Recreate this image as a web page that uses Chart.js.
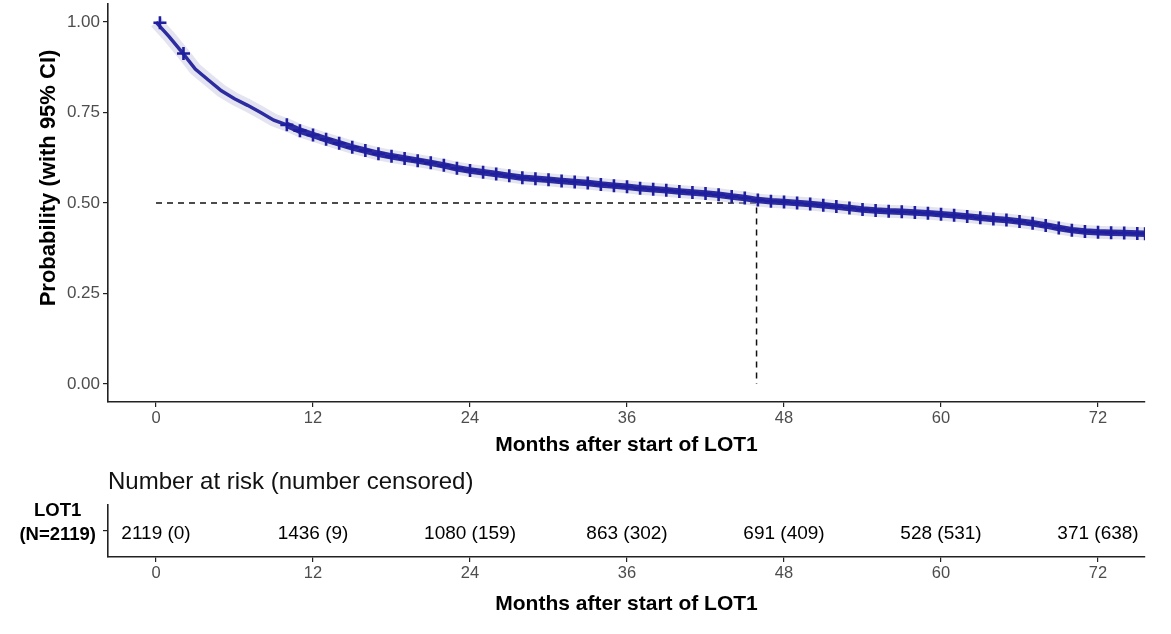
<!DOCTYPE html>
<html>
<head>
<meta charset="utf-8">
<script src="https://cdn.jsdelivr.net/npm/chart.js@4.4.1/dist/chart.umd.min.js"></script>
<style>
  body { margin: 0; background: #fff; }
  #wrap { position: relative; width: 1171px; height: 634px; }
  canvas { position: absolute; left: 0; }
  #km { top: 0; }
  #risk { top: 460px; }
</style>
</head>
<body>
<div id="wrap">
  <canvas id="km" width="1171" height="460"></canvas>
  <canvas id="risk" width="1171" height="174"></canvas>
</div>
<script>
// KM estimate (months, probability)
const months = [0, 1, 2, 3, 4, 5, 6, 7, 8, 9, 10, 11, 12, 13, 14, 15, 16, 17, 18, 19,
  20, 21, 22, 23, 24, 25, 26, 27, 28, 29, 30, 31, 32, 33, 34, 35, 36, 37, 38, 39,
  40, 41, 42, 43, 44, 45, 46, 47, 48, 49, 50, 51, 52, 53, 54, 55, 56, 57, 58, 59,
  60, 61, 62, 63, 64, 65, 66, 67, 68, 69, 70, 71, 72, 73, 74, 75, 75.6];
const survival = [1.000, 0.960, 0.916, 0.870, 0.840, 0.810, 0.788, 0.770, 0.750, 0.729,
  0.716, 0.700, 0.688, 0.676, 0.665, 0.654, 0.645, 0.636, 0.629, 0.623,
  0.617, 0.611, 0.604, 0.596, 0.590, 0.585, 0.580, 0.575, 0.570, 0.567,
  0.564, 0.561, 0.558, 0.555, 0.551, 0.548, 0.545, 0.541, 0.538, 0.535,
  0.532, 0.529, 0.526, 0.523, 0.518, 0.514, 0.508, 0.505, 0.503, 0.500,
  0.497, 0.494, 0.490, 0.486, 0.482, 0.479, 0.477, 0.476, 0.474, 0.472,
  0.469, 0.466, 0.463, 0.459, 0.456, 0.453, 0.449, 0.444, 0.438, 0.431,
  0.425, 0.421, 0.419, 0.418, 0.417, 0.416, 0.415];

// early censor marks, dense censoring starts around month 10
const earlyCensorTimes = [0.3, 2.1];
const earlyCensorSurv = [0.998, 0.913];
const denseCensorStart = 10;

const medianMonths = 45.9;

// number at risk table
const riskTimes = [0, 12, 24, 36, 48, 60, 72];
const atRisk = [2119, 1436, 1080, 863, 691, 528, 371];
const censored = [0, 9, 159, 302, 409, 531, 638];
const groupName = 'LOT1';
const groupN = 2119;

const xTicks = [0, 12, 24, 36, 48, 60, 72];
const yTicks = [0, 0.25, 0.5, 0.75, 1];

const FONT = "'Liberation Sans', Arial, sans-serif";
const TICK_COLOR = '#4d4d4d';
const AXIS_COLOR = '#222';
const CURVE = 'rgb(44, 44, 160)';
const X_MIN = -3.67, X_MAX = 75.59;

const kmPoints = months.map((m, i) => ({ x: m, y: survival[i] }));
const censorPoints = earlyCensorTimes.map((m, i) => ({ x: m, y: earlyCensorSurv[i] }))
  .concat(kmPoints.filter(p => p.x >= denseCensorStart));

function setTicks(values) {
  return scale => { scale.ticks = values.map(v => ({ value: v })); };
}

function xAxis(height, titlePad) {
  return {
    type: 'linear',
    min: X_MIN,
    max: X_MAX,
    afterBuildTicks: setTicks(xTicks),
    afterFit: s => { s.height = height; s.paddingLeft = 0; s.paddingRight = 0; },
    border: { display: true, color: AXIS_COLOR, width: 1.6 },
    grid: { drawOnChartArea: false, drawTicks: true, tickLength: 5, color: AXIS_COLOR, lineWidth: 1.2 },
    ticks: { color: TICK_COLOR, font: { family: FONT, size: 16.5 }, padding: 2, maxRotation: 0 },
    title: {
      display: true,
      text: 'Months after start of LOT1',
      color: '#000',
      font: { family: FONT, size: 21, weight: 'bold' },
      padding: { top: 0, bottom: titlePad }
    }
  };
}

// rotated y title, sitting a little above the panel centre as in the source figure
const yTitle = {
  id: 'yTitle',
  afterDraw(chart) {
    const { ctx } = chart;
    ctx.save();
    ctx.translate(49, 178);
    ctx.rotate(-Math.PI / 2);
    ctx.font = 'bold 22px ' + FONT;
    ctx.fillStyle = '#000';
    ctx.textAlign = 'center';
    ctx.textBaseline = 'middle';
    ctx.fillText('Probability (with 95% CI)', 0, 0);
    ctx.restore();
  }
};

new Chart(document.getElementById('km'), {
  type: 'scatter',
  data: {
    datasets: [
      {
        // censor marks
        data: censorPoints,
        showLine: false,
        pointStyle: 'cross',
        pointRadius: 6.5,
        pointBorderWidth: 2.6,
        pointBorderColor: 'rgb(30, 30, 158)',
        order: 0
      },
      {
        data: kmPoints,
        showLine: true,
        borderColor: CURVE,
        borderWidth: 3.5,
        segment: {
          borderWidth: c => (c.p0.parsed.x >= denseCensorStart ? 6.5 : 3.5)
        },
        pointRadius: 0,
        order: 1
      },
      {
        // confidence band shading
        data: kmPoints,
        showLine: true,
        borderColor: 'rgba(195, 195, 225, 0.45)',
        borderWidth: 13,
        pointRadius: 0,
        order: 2
      },
      {
        data: [{ x: 0, y: 0.5 }, { x: medianMonths, y: 0.5 }, { x: medianMonths, y: 0 }],
        showLine: true,
        borderColor: '#111',
        borderWidth: 1.5,
        borderDash: [6, 5],
        pointRadius: 0,
        order: 3
      }
    ]
  },
  options: {
    responsive: false,
    animation: false,
    layout: { autoPadding: false, padding: { top: 4, right: 26, left: 0, bottom: 0 } },
    plugins: { legend: { display: false }, tooltip: { enabled: false } },
    scales: {
      x: xAxis(58, 2),
      y: {
        type: 'linear',
        min: -0.05,
        max: 1.05,
        afterBuildTicks: setTicks(yTicks),
        afterFit: s => { s.width = 108; s.paddingTop = 0; s.paddingBottom = 0; },
        border: { display: true, color: AXIS_COLOR, width: 1.6 },
        grid: { drawOnChartArea: false, drawTicks: true, tickLength: 5, color: AXIS_COLOR, lineWidth: 1.2 },
        ticks: {
          color: TICK_COLOR,
          font: { family: FONT, size: 17 },
          padding: 3,
          callback: v => v.toFixed(2)
        },
        title: { display: false }
      }
    }
  },
  plugins: [yTitle]
});

// writes "n (censored)" at each risk-table point
const riskLabels = {
  id: 'riskLabels',
  afterDatasetsDraw(chart) {
    const { ctx } = chart;
    const meta = chart.getDatasetMeta(0);
    ctx.save();
    ctx.font = '19px ' + FONT;
    ctx.fillStyle = '#000';
    ctx.textAlign = 'center';
    ctx.textBaseline = 'middle';
    meta.data.forEach((pt, i) => {
      ctx.fillText(atRisk[i] + ' (' + censored[i] + ')', pt.x, pt.y + 3);
    });
    ctx.restore();
  }
};

new Chart(document.getElementById('risk'), {
  type: 'scatter',
  data: {
    datasets: [{
      data: riskTimes.map(t => ({ x: t, y: groupName })),
      pointRadius: 0,
      showLine: false
    }]
  },
  options: {
    responsive: false,
    animation: false,
    layout: { autoPadding: false, padding: { top: 0, right: 26, left: 0, bottom: 0 } },
    plugins: {
      legend: { display: false },
      tooltip: { enabled: false },
      title: {
        display: true,
        fullSize: false,
        align: 'start',
        text: 'Number at risk (number censored)',
        color: '#111',
        font: { family: FONT, size: 24, weight: 'normal' },
        padding: { top: 7.6, bottom: 8.6 }
      }
    },
    scales: {
      x: xAxis(77, 17),
      y: {
        type: 'category',
        labels: [groupName],
        offset: true,
        afterFit: s => { s.width = 108; s.paddingTop = 0; s.paddingBottom = 0; },
        border: { display: true, color: AXIS_COLOR, width: 1.6 },
        grid: { drawOnChartArea: false, drawTicks: true, tickLength: 5, color: AXIS_COLOR, lineWidth: 1.2 },
        ticks: {
          color: '#000',
          crossAlign: 'center',
          padding: 7,
          labelOffset: -8,
          font: { family: FONT, size: 18.5, weight: 'bold', lineHeight: 1.3 },
          callback: () => [groupName, '(N=' + groupN + ')']
        }
      }
    }
  },
  plugins: [riskLabels]
});
</script>
</body>
</html>
